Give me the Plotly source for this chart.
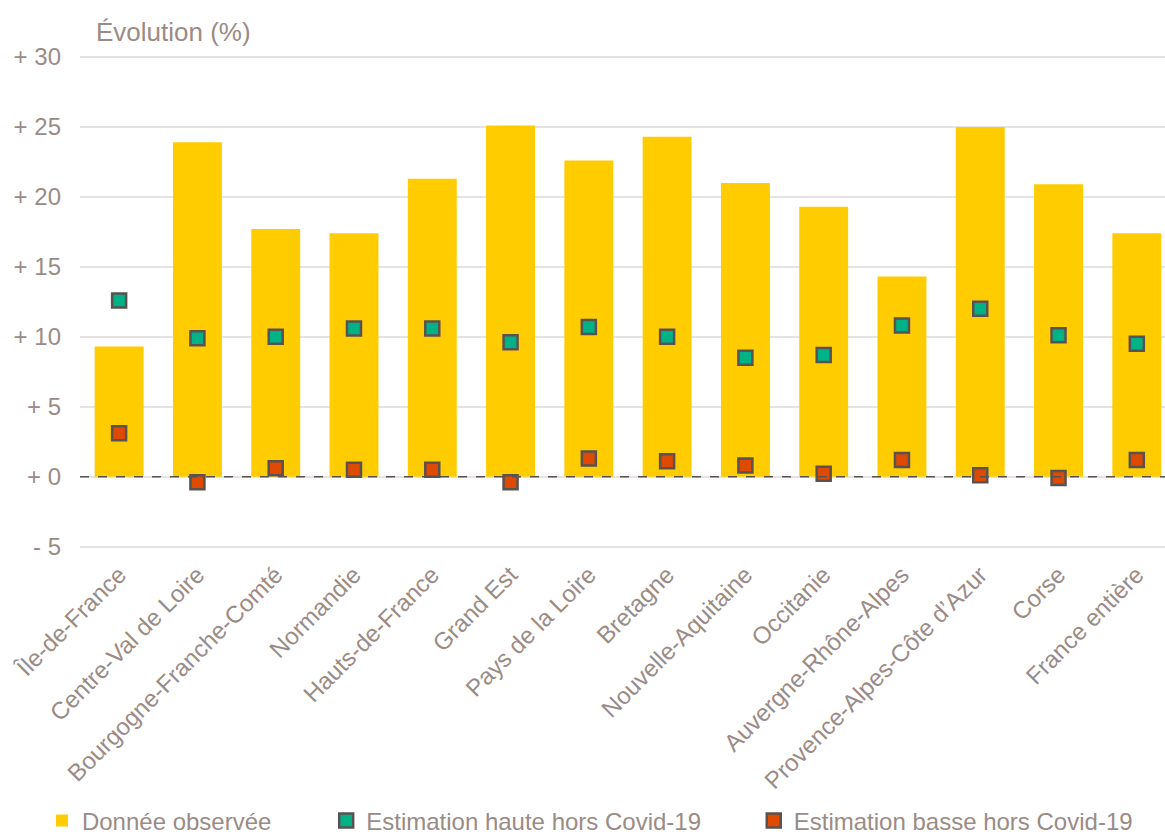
import plotly.graph_objects as go

regions = [
    "Île-de-France", "Centre-Val de Loire", "Bourgogne-Franche-Comté", "Normandie",
    "Hauts-de-France", "Grand Est", "Pays de la Loire", "Bretagne",
    "Nouvelle-Aquitaine", "Occitanie", "Auvergne-Rhône-Alpes",
    "Provence-Alpes-Côte d’Azur", "Corse", "France entière",
]
observed = [9.3, 23.9, 17.7, 17.4, 21.3, 25.1, 22.6, 24.3, 21.0, 19.3, 14.3, 25.0, 20.9, 17.4]
high_estimate = [12.6, 9.9, 10.0, 10.6, 10.6, 9.6, 10.7, 10.0, 8.5, 8.7, 10.8, 12.0, 10.1, 9.5]
low_estimate = [3.1, -0.4, 0.6, 0.5, 0.5, -0.4, 1.3, 1.1, 0.8, 0.2, 1.2, 0.1, -0.1, 1.2]

y_ticks = [-5, 0, 5, 10, 15, 20, 25, 30]
y_tick_labels = ["- 5", "+ 0", "+ 5", "+ 10", "+ 15", "+ 20", "+ 25", "+ 30"]

TEXT = "#9b8b86"
EDGE = "#5a5250"
FONT = "Liberation Sans, Arial, sans-serif"

fig = go.Figure()
fig.add_trace(go.Bar(
    x=regions, y=observed, name="Donnée observée",
    marker=dict(color="#ffcc00", line=dict(width=0)), width=0.625,
    legend="legend",
))
fig.add_trace(go.Scatter(
    x=regions, y=high_estimate, mode="markers", name="Estimation haute hors Covid-19",
    marker=dict(symbol="square", size=14, color="#00b386", line=dict(color=EDGE, width=2.5)),
    legend="legend2",
))
fig.add_trace(go.Scatter(
    x=regions, y=low_estimate, mode="markers", name="Estimation basse hors Covid-19",
    marker=dict(symbol="square", size=14, color="#dd4a00", line=dict(color=EDGE, width=2.5)),
    legend="legend3",
))

# dashed baseline at zero
fig.add_shape(type="line", xref="paper", x0=0, x1=1, yref="y", y0=0, y1=0,
              line=dict(color=EDGE, width=1.5, dash="dash"), layer="above")

fig.add_annotation(text="Évolution (%)", xref="paper", yref="paper", x=0.0125, y=1.0,
                   xanchor="left", yanchor="bottom", showarrow=False,
                   font=dict(size=26, color=TEXT, family=FONT), yshift=1)

legend_common = dict(orientation="h", yref="container", xref="container",
                     yanchor="middle", xanchor="left", bgcolor="rgba(0,0,0,0)",
                     font=dict(size=24, color=TEXT, family=FONT),
                     itemwidth=30, tracegroupgap=0)

fig.update_layout(
    width=1165, height=836,
    margin=dict(l=80, r=0, t=50, b=281),
    plot_bgcolor="white", paper_bgcolor="white",
    font=dict(family=FONT, color=TEXT),
    bargap=0.375,
    xaxis=dict(
        range=[-0.5, 13.36], tickangle=-45, showgrid=False, zeroline=False,
        showline=False, ticks="", tickfont=dict(size=24, color=TEXT, family=FONT),
    ),
    yaxis=dict(
        range=[-5.6, 30.5], tickvals=y_ticks, ticktext=y_tick_labels,
        showgrid=True, gridcolor="#e8e3e3", gridwidth=2, zeroline=False,
        showline=False, ticks="", ticklabelstandoff=18,
        tickfont=dict(size=24, color=TEXT, family=FONT),
    ),
    showlegend=True,
    legend=dict(x=0.036, y=0.018, **legend_common),
    legend2=dict(x=0.280, y=0.018, **legend_common),
    legend3=dict(x=0.647, y=0.018, **legend_common),
)

fig.write_html("out.html")
